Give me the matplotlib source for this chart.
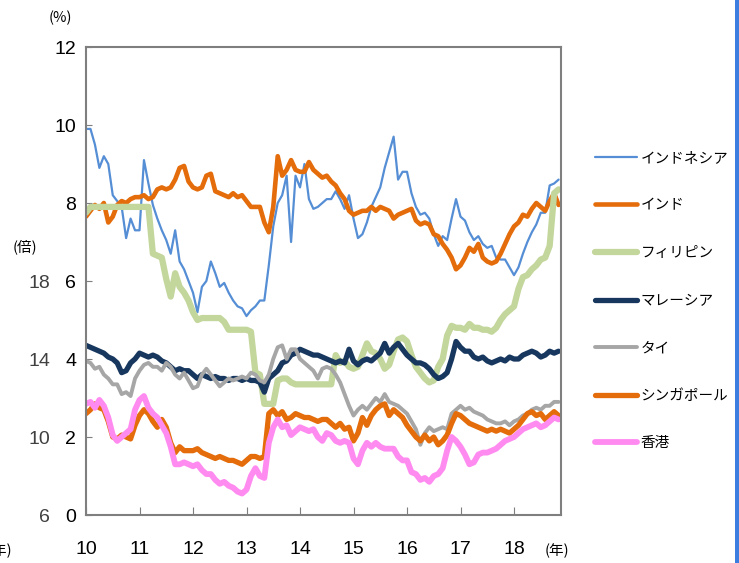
import numpy as np
import matplotlib
matplotlib.use("Agg")
import matplotlib.pyplot as plt
from matplotlib.patches import Rectangle

plt.rcParams["font.family"] = ["Liberation Sans", "Noto Sans CJK JP", "DejaVu Sans"]

# monthly points, Jan 2010 .. Nov 2018
start_year = 2010
n_months = 107

indonesia = [
    9.9, 9.9, 9.5, 8.9, 9.2, 9.0, 8.2, 8.05, 7.9, 7.1, 7.6, 7.3, 7.3, 9.1, 8.5, 7.95,
    7.6, 7.3, 7.05, 6.7, 7.3, 6.5, 6.3, 6.0, 5.7, 5.2, 5.85, 6.0, 6.5, 6.2, 5.85, 5.95,
    5.7, 5.5, 5.35, 5.3, 5.1, 5.25, 5.35, 5.5, 5.5, 6.4, 7.4, 8.0, 8.2, 8.7, 7.0, 8.7,
    8.4, 9.0, 8.1, 7.85, 7.9, 8.0, 8.1, 8.1, 8.3, 8.1, 7.85, 8.2, 7.6, 7.1, 7.2, 7.5,
    7.9, 8.15, 8.4, 8.9, 9.3, 9.7, 8.6, 8.8, 8.8, 8.25, 7.9, 7.7, 7.75, 7.6, 7.2, 6.9,
    7.15, 7.05, 7.6, 8.1, 7.65, 7.55, 7.25, 7.05, 7.15, 6.95, 6.85, 6.9, 6.6, 6.55, 6.55, 6.35,
    6.15, 6.35, 6.7, 7.0, 7.25, 7.45, 7.75, 7.75, 8.45, 8.5, 8.6,
]
india = [
    7.65, 7.8, 7.95, 7.85, 8.0, 7.5, 7.65, 7.95, 8.05, 8.0, 8.1, 8.15, 8.15, 8.2, 8.1, 8.15,
    8.35, 8.4, 8.35, 8.4, 8.6, 8.9, 8.95, 8.55, 8.4, 8.35, 8.4, 8.7, 8.75, 8.3, 8.25, 8.2,
    8.15, 8.25, 8.15, 8.2, 8.05, 7.9, 7.9, 7.9, 7.5, 7.25, 7.9, 9.2, 8.7, 8.85, 9.1, 8.85,
    8.8, 8.8, 9.05, 8.85, 8.75, 8.65, 8.7, 8.55, 8.45, 8.25, 8.1, 7.8, 7.7, 7.75, 7.8, 7.8,
    7.9, 7.8, 7.9, 7.85, 7.8, 7.6, 7.7, 7.75, 7.8, 7.85, 7.55, 7.45, 7.5, 7.45, 7.2, 7.15,
    6.95, 6.8, 6.6, 6.3, 6.4, 6.6, 6.85, 6.75, 6.95, 6.6, 6.5, 6.45, 6.5, 6.7, 6.95, 7.2,
    7.4, 7.5, 7.7, 7.65, 7.85, 8.0, 7.9, 7.8, 8.05, 8.25, 7.95,
]
philippines = [
    7.75, 7.9, 7.9, 7.9, 7.9, 7.9, 7.9, 7.9, 7.9, 7.9, 7.9, 7.9, 7.9, 7.9, 7.9, 6.7,
    6.65, 6.6, 6.05, 5.6, 6.2, 5.85, 5.7, 5.5, 5.2, 5.0, 5.05, 5.05, 5.05, 5.05, 5.05, 4.95,
    4.75, 4.75, 4.75, 4.75, 4.75, 4.7, 3.65, 3.6, 2.85, 2.85, 2.85, 3.45, 3.5, 3.5, 3.4, 3.35,
    3.35, 3.35, 3.35, 3.35, 3.35, 3.35, 3.35, 3.35, 4.1, 3.9, 3.95, 3.8, 3.75, 3.8, 4.1, 4.4,
    4.2, 4.15, 4.0, 3.75, 3.85, 4.2, 4.5, 4.55, 4.45, 4.1, 3.8, 3.65, 3.5, 3.4, 3.45, 3.8,
    4.0, 4.6, 4.85, 4.8, 4.8, 4.75, 4.9, 4.8, 4.8, 4.75, 4.75, 4.7, 4.8, 5.0, 5.15, 5.25,
    5.35, 5.8, 6.1, 6.15, 6.3, 6.4, 6.55, 6.6, 6.9, 8.25, 8.35,
]
malaysia = [
    4.35, 4.3, 4.25, 4.2, 4.15, 4.05, 4.0, 3.9, 3.65, 3.7, 3.9, 4.0, 4.15, 4.1, 4.05, 4.1,
    4.05, 3.95, 3.9, 3.8, 3.7, 3.75, 3.7, 3.7, 3.6, 3.5, 3.6, 3.55, 3.5, 3.55, 3.5, 3.5,
    3.45, 3.5, 3.5, 3.45, 3.5, 3.45, 3.45, 3.4, 3.15, 3.5, 3.6, 3.7, 3.9, 3.95, 4.1, 4.15,
    4.25, 4.2, 4.15, 4.1, 4.1, 4.05, 4.0, 3.95, 3.9, 3.95, 3.9, 4.25, 3.95, 3.85, 3.95, 4.0,
    3.95, 4.05, 4.15, 4.4, 4.15, 4.3, 4.4, 4.25, 4.1, 4.0, 3.9, 3.9, 3.85, 3.75, 3.6, 3.5,
    3.55, 3.65, 4.0, 4.45, 4.3, 4.2, 4.2, 4.05, 4.0, 4.05, 3.95, 3.9, 3.95, 4.0, 3.95, 4.05,
    4.0, 4.0, 4.1, 4.15, 4.2, 4.15, 4.05, 4.1, 4.2, 4.15, 4.2,
]
thailand = [
    3.95, 3.9, 3.75, 3.8, 3.6, 3.5, 3.35, 3.35, 3.1, 3.15, 3.05, 3.5, 3.7, 3.85, 3.9, 3.8,
    3.8, 3.7, 3.9, 3.8, 3.6, 3.5, 3.65, 3.45, 3.25, 3.3, 3.6, 3.75, 3.6, 3.45, 3.3, 3.4,
    3.5, 3.45, 3.5, 3.55, 3.5, 3.65, 3.6, 3.45, 3.4, 3.6, 4.0, 4.3, 4.35, 4.0, 4.25, 4.25,
    4.0, 3.9, 3.8, 3.7, 3.5, 3.75, 3.8, 3.75, 3.6, 3.4, 3.1, 2.8, 2.55, 2.7, 2.8, 2.7,
    2.85, 3.0, 2.9, 3.1, 2.9, 2.85, 2.8, 2.7, 2.6, 2.4, 2.2, 1.8, 2.1, 2.25, 2.15, 2.2,
    2.25, 2.2, 2.6, 2.7, 2.8, 2.7, 2.75, 2.65, 2.6, 2.55, 2.45, 2.4, 2.35, 2.35, 2.4, 2.3,
    2.4, 2.45, 2.55, 2.6, 2.7, 2.75, 2.7, 2.8, 2.8, 2.9, 2.9,
]
singapore = [
    2.6, 2.7, 2.85, 2.75, 2.7, 2.4, 2.0, 1.95, 2.05, 2.0, 1.95, 2.3, 2.55, 2.7, 2.6, 2.4,
    2.25, 2.45, 2.25, 1.85, 1.6, 1.75, 1.65, 1.65, 1.65, 1.7, 1.6, 1.55, 1.5, 1.45, 1.5, 1.45,
    1.4, 1.4, 1.35, 1.3, 1.4, 1.5, 1.5, 1.45, 1.5, 2.6, 2.7, 2.55, 2.65, 2.45, 2.5, 2.6,
    2.55, 2.5, 2.5, 2.45, 2.4, 2.45, 2.45, 2.35, 2.25, 2.35, 2.2, 2.25, 1.9, 2.1, 2.5, 2.3,
    2.55, 2.7, 2.8, 2.85, 2.55, 2.7, 2.6, 2.5, 2.3, 2.15, 2.0, 1.9, 2.05, 1.9, 2.0, 1.8,
    1.9, 2.05, 2.35, 2.6, 2.55, 2.45, 2.35, 2.3, 2.25, 2.2, 2.15, 2.2, 2.15, 2.2, 2.15, 2.1,
    2.2, 2.3, 2.45, 2.6, 2.65, 2.55, 2.6, 2.45, 2.55, 2.65, 2.55,
]
hongkong = [
    2.85, 2.9, 2.75, 2.95, 2.8, 2.5, 2.05, 1.9, 2.0, 2.1, 2.2, 2.7, 2.95, 3.05, 2.75, 2.6,
    2.5, 2.3, 2.1, 1.75, 1.3, 1.3, 1.35, 1.3, 1.25, 1.3, 1.15, 1.05, 1.05, 0.9, 0.8, 0.85,
    0.75, 0.7, 0.6, 0.55, 0.65, 1.0, 1.2, 1.0, 0.95, 1.85, 2.25, 2.45, 2.25, 2.3, 2.05, 2.15,
    2.25, 2.2, 2.15, 2.2, 2.0, 1.9, 2.1, 2.05, 1.9, 1.85, 1.9, 1.85, 1.45, 1.3, 1.65, 1.85,
    1.75, 1.85, 1.75, 1.7, 1.7, 1.7, 1.5, 1.4, 1.4, 1.1, 1.05, 0.9, 0.95, 0.85, 1.0, 1.05,
    1.2, 1.65, 2.0, 1.9, 1.75, 1.55, 1.3, 1.35, 1.55, 1.6, 1.6, 1.65, 1.7, 1.8, 1.9, 1.95,
    2.0, 2.1, 2.2, 2.25, 2.3, 2.35, 2.25, 2.3, 2.4, 2.5, 2.45,
]

series = [
    ("インドネシア", indonesia, "#558ED5", 1.6),
    ("インド", india, "#E46C0A", 3.3),
    ("フィリピン", philippines, "#C3D69B", 4.5),
    ("マレーシア", malaysia, "#17375E", 3.8),
    ("タイ", thailand, "#A6A6A6", 2.8),
    ("シンガポール", singapore, "#E46C0A", 3.8),
    ("香港", hongkong, "#FF8AF0", 4.2),
]

pct_ticks = [0, 2, 4, 6, 8, 10, 12]
bai_ticks = [6, 10, 14, 18]
year_ticks = list(range(2010, 2019))
year_labels = [str(y - 2000) for y in year_ticks]

x = start_year + np.arange(n_months) / 12.0

W, H = 739, 563
fig = plt.figure(figsize=(W / 100, H / 100), dpi=100)
ax = fig.add_axes([86 / W, 1 - 515 / H, (561 - 86) / W, (515 - 47) / H])

for name, vals, color, lw in series:
    ax.plot(x, vals, color=color, lw=lw, label=name, solid_capstyle="round")

ax.set_xlim(2010, 2010 + (561 - 86) / 53.5)
ax.set_ylim(0, 12)
ax.set_yticks(pct_ticks)
ax.set_xticks(year_ticks)
ax.set_xticklabels(year_labels)

spine_color = "#7F7F7F"
for sp in ax.spines.values():
    sp.set_color(spine_color)
    sp.set_linewidth(1.5)

ax.tick_params(axis="y", direction="in", length=4, color=spine_color, pad=7,
               labelsize=14, labelcolor="black")
ax.tick_params(axis="x", direction="in", length=6, color=spine_color, pad=19,
               labelsize=14, labelcolor="black")

# second scale (倍) on the left
sec = ax.secondary_yaxis(-0.076, functions=(lambda p: 6 + 2 * p, lambda b: (b - 6) / 2))
sec.set_yticks(bai_ticks)
sec.spines["left"].set_visible(False)
sec.tick_params(axis="y", length=0, pad=0, labelsize=14, labelcolor="#404040")

cjk = ["Noto Sans CJK JP", "DejaVu Sans"]
fig.text(60 / W, 1 - 18 / H, "(%)", ha="center", va="center", fontsize=10.5, family=cjk)
fig.text(25 / W, 1 - 247 / H, "(倍)", ha="center", va="center", fontsize=10.5, family=cjk)
fig.text(557 / W, 1 - 551 / H, "(年)", ha="center", va="center", fontsize=10.5, family=cjk)
fig.text(12 / W, 1 - 551 / H, "(年)", ha="right", va="center", fontsize=10.5, family=cjk)

leg = ax.legend(loc="upper left", bbox_to_anchor=(595 / W, 1 - 151 / H),
                bbox_transform=fig.transFigure, frameon=False, borderpad=0,
                borderaxespad=0, handlelength=2.9, handletextpad=0.25,
                labelspacing=2.3, prop={"family": cjk, "size": 10.5})

# blue strip at the right edge
fig.add_artist(Rectangle((735 / W, 0), 4 / W, 1, transform=fig.transFigure,
                         color="#3C7DE0", lw=0))

fig.savefig("out.png", dpi=100)
